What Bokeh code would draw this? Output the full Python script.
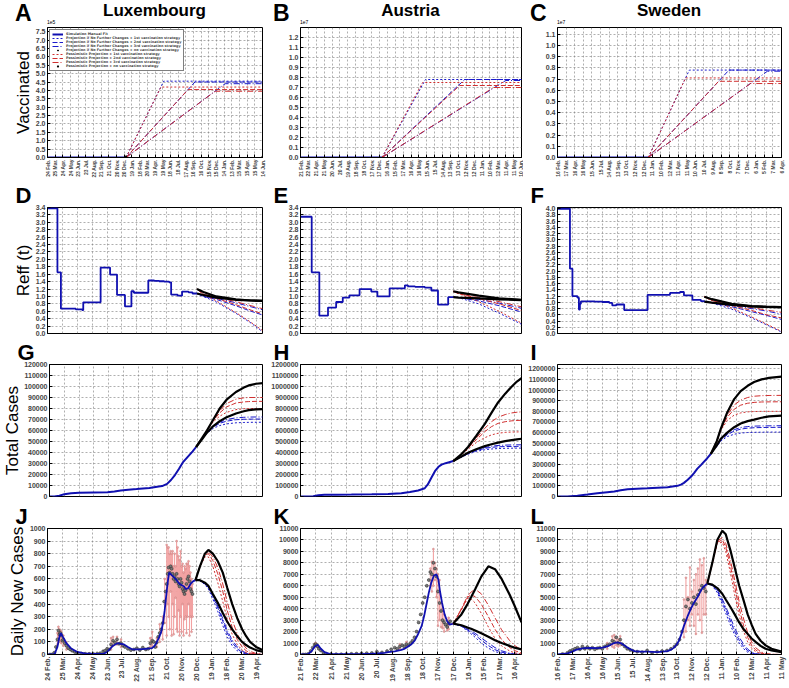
from math import pi
from bokeh.plotting import figure
from bokeh.models import (FixedTicker, Range1d, Legend, LegendItem, Title, Div,
                          NumeralTickFormatter)
from bokeh.layouts import column, row
from bokeh.embed import file_html
from bokeh.resources import INLINE

# ---------------- tick labels ----------------
LUX_TICK_LABELS = ["24 Feb.", "25 Mar.", "24 Apr.", "24 May", "23 Jun.", "23 Jul.", "22 Aug.", "21 Sep.",
                   "21 Oct.", "20 Nov.", "20 Dec.", "19 Jan.", "18 Feb.", "20 Mar.", "19 Apr.", "19 May",
                   "18 Jun.", "18 Jul.", "17 Aug.", "16 Sep.", "16 Oct.", "15 Nov.", "15 Dec.", "14 Jan.",
                   "13 Feb.", "15 Mar.", "15 Apr.", "15 May", "14 Jun."]
AUT_TICK_LABELS = ["21 Feb.", "22 Mar.", "21 Apr.", "21 May", "20 Jun.", "20 Jul.", "19 Aug.", "18 Sep.",
                   "18 Oct.", "17 Nov.", "17 Dec.", "16 Jan.", "15 Feb.", "17 Mar.", "16 Apr.", "16 May",
                   "15 Jun.", "15 Jul.", "14 Aug.", "13 Sep.", "13 Oct.", "12 Nov.", "12 Dec.", "11 Jan.",
                   "10 Feb.", "12 Mar.", "11 Apr.", "11 May", "10 Jun."]
SWE_TICK_LABELS = ["16 Feb.", "17 Mar.", "16 Apr.", "16 May", "15 Jun.", "15 Jul.", "14 Aug.", "13 Sep.",
                   "13 Oct.", "12 Nov.", "12 Dec.", "11 Jan.", "10 Feb.", "12 Mar.", "11 Apr.", "11 May",
                   "10 Jun.", "10 Jul.", "9 Aug.", "8 Sep.", "8 Oct.", "7 Nov.", "7 Dec.", "6 Jan.",
                   "5 Feb.", "7 Mar.", "6 Apr."]
COUNTRIES = ["Luxembourg", "Austria", "Sweden"]
ROW_LABELS = ["Vaccinated", "Reff (t)", "Total Cases", "Daily New Cases"]
PANEL_LETTERS = [["A", "B", "C"], ["D", "E", "F"], ["G", "H", "I"], ["J", "K", "L"]]
VAC_SCALE_TEXT = ["1e5", "1e7", "1e7"]
LEGEND_LABELS = ["Simulation Manual Fit",
                 "Projection if No Further Changes + 1st vaccination strategy",
                 "Projection if No Further Changes + 2nd vaccination strategy",
                 "Projection if No Further Changes + 3rd vaccination strategy",
                 "Projection if No Further Changes + no vaccination strategy",
                 "Pessimistic Projection + 1st vaccination strategy",
                 "Pessimistic Projection + 2nd vaccination strategy",
                 "Pessimistic Projection + 3rd vaccination strategy",
                 "Pessimistic Projection + no vaccination strategy"]

# ---------------- Vaccinated (days since first tick; values in units of 1e5 / 1e7) ----------------
LUX_VAC_FIT_DAY = [0, 307];            LUX_VAC_FIT_VAL = [0.0, 0.0]
LUX_VAC_NONE_DAY = [307, 840];         LUX_VAC_NONE_VAL = [0.0, 0.0]
LUX_VAC_NC1_DAY = [307, 454, 840];     LUX_VAC_NC1_VAL = [0.0, 4.55, 4.55]
LUX_VAC_NC2_DAY = [307, 576, 840];     LUX_VAC_NC2_VAL = [0.0, 4.50, 4.50]
LUX_VAC_NC3_DAY = [307, 694, 840];     LUX_VAC_NC3_VAL = [0.0, 4.40, 4.40]
LUX_VAC_P1_DAY = [307, 443, 840];      LUX_VAC_P1_VAL = [0.0, 4.20, 4.20]
LUX_VAC_P2_DAY = [307, 549, 840];      LUX_VAC_P2_VAL = [0.0, 4.05, 4.05]
LUX_VAC_P3_DAY = [307, 655, 840];      LUX_VAC_P3_VAL = [0.0, 3.95, 3.95]

AUT_VAC_FIT_DAY = [0, 310];            AUT_VAC_FIT_VAL = [0.0, 0.0]
AUT_VAC_NC1_DAY = [310, 475, 840];     AUT_VAC_NC1_VAL = [0.0, 0.78, 0.78]
AUT_VAC_NC2_DAY = [310, 624, 840];     AUT_VAC_NC2_VAL = [0.0, 0.78, 0.78]
AUT_VAC_NC3_DAY = [310, 780, 840];     AUT_VAC_NC3_VAL = [0.0, 0.77, 0.77]
AUT_VAC_P1_DAY = [310, 464, 840];      AUT_VAC_P1_VAL = [0.0, 0.75, 0.75]
AUT_VAC_P2_DAY = [310, 605, 840];      AUT_VAC_P2_VAL = [0.0, 0.72, 0.72]
AUT_VAC_P3_DAY = [310, 734, 840];      AUT_VAC_P3_VAL = [0.0, 0.70, 0.70]

SWE_VAC_FIT_DAY = [0, 316];            SWE_VAC_FIT_VAL = [0.0, 0.0]
SWE_VAC_NC1_DAY = [316, 459, 780];     SWE_VAC_NC1_VAL = [0.0, 0.78, 0.78]
SWE_VAC_NC2_DAY = [316, 597, 780];     SWE_VAC_NC2_VAL = [0.0, 0.78, 0.78]
SWE_VAC_NC3_DAY = [316, 731, 780];     SWE_VAC_NC3_VAL = [0.0, 0.77, 0.77]
SWE_VAC_P1_DAY = [316, 446, 780];      SWE_VAC_P1_VAL = [0.0, 0.71, 0.71]
SWE_VAC_P2_DAY = [316, 561, 780];      SWE_VAC_P2_VAL = [0.0, 0.68, 0.68]
SWE_VAC_P3_DAY = [316, 672, 780];      SWE_VAC_P3_VAL = [0.0, 0.66, 0.66]

# ---------------- Reff(t) ----------------
LUX_R_FIT_DAY = [0, 20, 27, 57, 70, 72, 107, 126, 140, 156, 169, 174, 203, 215, 225, 235, 245, 249, 262, 271, 284, 292, 301]
LUX_R_FIT_VAL = [3.38, 1.65, 0.67, 0.65, 0.63, 0.84, 1.78, 1.59, 1.04, 0.73, 1.14, 1.10, 1.43, 1.42, 1.41, 1.40, 1.38, 1.05, 1.02, 1.13, 1.11, 1.08, 1.08]
LUX_R_PROJ_DAY = [301, 314, 340, 379, 410, 433]
LUX_R_NC1 = [1.08, 1.00, 0.85, 0.55, 0.28, 0.05]
LUX_R_NC2 = [1.08, 1.00, 0.92, 0.75, 0.60, 0.50]
LUX_R_NC3 = [1.08, 1.00, 0.95, 0.83, 0.72, 0.64]
LUX_R_P1 = [1.20, 1.06, 0.88, 0.57, 0.30, 0.08]
LUX_R_P2 = [1.20, 1.06, 0.95, 0.78, 0.63, 0.53]
LUX_R_P3 = [1.20, 1.06, 0.98, 0.86, 0.75, 0.67]
LUX_R_NC0 = [1.08, 1.04, 0.97, 0.91, 0.89, 0.88]
LUX_R_P0 = [1.20, 1.12, 1.00, 0.92, 0.89, 0.88]

AUT_R_FIT_DAY = [0, 22, 37, 54, 70, 83, 96, 116, 139, 151, 175, 205, 211, 225, 244, 257, 270, 290, 300]
AUT_R_FIT_VAL = [3.15, 1.65, 0.48, 0.70, 0.85, 0.97, 1.03, 1.20, 1.13, 1.00, 1.22, 1.30, 1.27, 1.26, 1.24, 1.16, 0.78, 0.98, 0.98]
AUT_R_PROJ_DAY = [300, 310, 350, 390, 434]
AUT_R_NC1 = [0.98, 0.97, 0.80, 0.55, 0.25]
AUT_R_NC2 = [0.98, 0.97, 0.88, 0.75, 0.58]
AUT_R_NC3 = [0.98, 0.97, 0.92, 0.82, 0.68]
AUT_R_P1 = [1.14, 1.08, 0.86, 0.60, 0.28]
AUT_R_P2 = [1.14, 1.08, 0.94, 0.80, 0.62]
AUT_R_P3 = [1.14, 1.08, 0.97, 0.86, 0.72]
AUT_R_NC0 = [0.98, 0.97, 0.95, 0.92, 0.90]
AUT_R_P0 = [1.14, 1.11, 1.02, 0.95, 0.91]

SWE_R_FIT_DAY = [0, 25, 30, 40, 43, 45, 47, 60, 75, 90, 104, 110, 118, 134, 181, 226, 246, 254, 271, 288, 295]
SWE_R_FIT_VAL = [4.0, 2.08, 1.20, 1.15, 0.77, 0.95, 1.03, 1.03, 1.02, 1.01, 0.98, 0.90, 0.93, 0.75, 1.24, 1.30, 1.33, 1.22, 1.08, 1.04, 1.02]
SWE_R_PROJ_DAY = [295, 310, 350, 390, 420, 450]
SWE_R_NC1 = [1.02, 0.98, 0.78, 0.50, 0.28, 0.05]
SWE_R_NC2 = [1.02, 0.98, 0.86, 0.70, 0.58, 0.45]
SWE_R_NC3 = [1.02, 0.98, 0.90, 0.80, 0.72, 0.62]
SWE_R_P1 = [1.18, 1.06, 0.82, 0.53, 0.30, 0.07]
SWE_R_P2 = [1.18, 1.06, 0.90, 0.74, 0.60, 0.50]
SWE_R_P3 = [1.18, 1.06, 0.93, 0.83, 0.75, 0.68]
SWE_R_NC0 = [1.02, 0.99, 0.92, 0.87, 0.85, 0.84]
SWE_R_P0 = [1.18, 1.10, 0.95, 0.88, 0.86, 0.85]

# ---------------- Total cases ----------------
LUX_T_FIT_DAY = [0, 10, 20, 30, 44, 60, 90, 118, 132, 145, 160, 177, 203, 222, 229, 239, 247, 255, 263, 271, 281, 291, 298]
LUX_T_FIT_VAL = [0, 100, 800, 2000, 3000, 3400, 3600, 3800, 4500, 5500, 6200, 6800, 7800, 9000, 9500, 11500, 15000, 19500, 25000, 31000, 36000, 41000, 45000]
LUX_T_PROJ_DAY = [298, 310, 320, 333, 346, 360, 379, 395, 405, 420, 434]
LUX_T_P0 = [45000, 53000, 60000, 70000, 80000, 88000, 95000, 99000, 101000, 102500, 103000]
LUX_T_NC0 = [45000, 52000, 58000, 64000, 68500, 72000, 75500, 77500, 78500, 79200, 79500]
LUX_T_P1 = [45000, 53000, 60000, 68000, 73000, 76500, 79000, 79800, 80000, 80000, 80000]
LUX_T_P2 = [45000, 53000, 60000, 69000, 76000, 81500, 85000, 86000, 86300, 86500, 86500]
LUX_T_P3 = [45000, 53000, 60000, 69500, 78000, 84500, 88500, 89700, 90000, 90000, 90000]
LUX_T_NC1 = [45000, 52000, 57500, 62000, 64500, 66000, 67000, 67300, 67400, 67500, 67500]
LUX_T_NC2 = [45000, 52000, 57800, 63000, 66500, 68500, 69800, 70200, 70300, 70400, 70400]
LUX_T_NC3 = [45000, 52000, 58000, 63500, 67500, 70000, 71500, 72000, 72200, 72300, 72300]

AUT_T_FIT_DAY = [0, 15, 25, 35, 47, 70, 100, 140, 172, 198, 215, 231, 244, 250, 257, 264, 271, 277, 285, 292, 300]
AUT_T_FIT_VAL = [0, 500, 3000, 12000, 15000, 17000, 18000, 20000, 23000, 30000, 40000, 55000, 75000, 110000, 170000, 230000, 270000, 290000, 303000, 312000, 322000]
AUT_T_PROJ_DAY = [300, 315, 329, 345, 362, 375, 388, 402, 415, 425, 434]
AUT_T_P0 = [322000, 380000, 450000, 550000, 660000, 760000, 855000, 935000, 1000000, 1045000, 1075000]
AUT_T_NC0 = [322000, 360000, 398000, 430000, 458000, 475000, 490000, 503000, 513000, 520000, 525000]
AUT_T_P1 = [322000, 375000, 430000, 490000, 535000, 560000, 575000, 583000, 586000, 587000, 588000]
AUT_T_P2 = [322000, 378000, 440000, 515000, 590000, 635000, 665000, 680000, 688000, 691000, 693000]
AUT_T_P3 = [322000, 379000, 445000, 530000, 620000, 680000, 720000, 745000, 760000, 766000, 770000]
AUT_T_NC1 = [322000, 355000, 385000, 410000, 425000, 432000, 436000, 438000, 439000, 440000, 440000]
AUT_T_NC2 = [322000, 357000, 390000, 418000, 437000, 447000, 452000, 454000, 455000, 455500, 456000]
AUT_T_NC3 = [322000, 358000, 393000, 423000, 445000, 457000, 464000, 467000, 469000, 470000, 470000]

SWE_T_FIT_DAY = [0, 20, 40, 60, 80, 100, 114, 127, 141, 160, 181, 201, 221, 241, 248, 254, 261, 268, 275, 281, 288, 294, 300, 308]
SWE_T_FIT_VAL = [0, 1000, 8000, 18000, 30000, 40000, 47000, 58000, 68000, 73000, 78000, 83000, 87000, 100000, 112000, 128000, 155000, 185000, 225000, 262000, 295000, 325000, 355000, 400000]
SWE_T_PROJ_DAY = [308, 320, 328, 341, 355, 368, 382, 395, 410, 425, 450]
SWE_T_P0 = [400000, 520000, 636000, 790000, 915000, 990000, 1040000, 1075000, 1100000, 1115000, 1126000]
SWE_T_NC0 = [400000, 480000, 543000, 600000, 651000, 685000, 708000, 722000, 740000, 752000, 760000]
SWE_T_P1 = [400000, 515000, 620000, 715000, 765000, 785000, 795000, 798000, 800000, 800000, 800000]
SWE_T_P2 = [400000, 515000, 625000, 745000, 820000, 858000, 876000, 884000, 888000, 889000, 890000]
SWE_T_P3 = [400000, 517000, 630000, 765000, 860000, 905000, 930000, 942000, 947000, 949000, 950000]
SWE_T_NC1 = [400000, 470000, 520000, 563000, 585000, 596000, 601000, 603000, 604000, 605000, 605000]
SWE_T_NC2 = [400000, 473000, 528000, 580000, 615000, 633000, 642000, 646000, 648000, 649000, 650000]
SWE_T_NC3 = [400000, 474000, 532000, 590000, 628000, 648000, 657000, 661000, 663000, 664000, 665000]

# ---------------- Daily new cases ----------------
LUX_D_FIT_DAY = [0, 14, 20, 24, 27, 31, 38, 47, 60, 75, 95, 112, 120, 125, 132, 141, 148, 154, 162, 171,
                 185, 197, 210, 215, 219, 224, 229, 233, 236, 240, 243, 245, 250, 258, 266, 275, 278, 283, 288, 293, 298]
LUX_D_FIT_VAL = [0, 0, 60, 140, 170, 140, 90, 50, 20, 8, 5, 5, 20, 40, 70, 90, 85, 80, 60, 40,
                 40, 45, 50, 65, 90, 130, 180, 260, 350, 500, 600, 650, 630, 600, 560, 540, 520, 525, 560, 580, 590]
LUX_D_PROJ_DAY = [298, 307, 317, 324, 333, 343, 353, 362, 372, 382, 392, 400, 408, 420, 433]
LUX_D_P0 = [590, 700, 800, 830, 800, 740, 650, 530, 400, 290, 200, 145, 100, 60, 35]
LUX_D_NC0 = [590, 590, 570, 545, 480, 410, 330, 260, 200, 145, 100, 75, 55, 35, 22]
LUX_D_P1 = [590, 695, 775, 775, 700, 570, 420, 280, 160, 80, 35, 15, 6, 2, 0]
LUX_D_P2 = [590, 697, 790, 800, 745, 640, 500, 350, 215, 120, 60, 30, 12, 4, 1]
LUX_D_P3 = [590, 698, 800, 815, 775, 690, 560, 415, 275, 165, 90, 50, 25, 8, 2]
LUX_D_NC1 = [590, 585, 555, 520, 440, 340, 230, 140, 70, 30, 10, 4, 1, 0, 0]
LUX_D_NC2 = [590, 587, 562, 532, 460, 370, 265, 170, 95, 45, 18, 8, 3, 1, 0]
LUX_D_NC3 = [590, 588, 565, 538, 470, 385, 285, 190, 115, 60, 27, 12, 5, 1, 0]
LUX_OBS_DAY = [5, 10, 14, 17, 20, 22, 24, 26, 28, 30, 32, 35, 38, 42, 46, 50, 55, 60, 68, 76,
               84, 92, 100, 106, 112, 116, 120, 124, 128, 132, 136, 140, 144, 148, 152, 156, 162, 168, 174, 180,
               186, 192, 198, 203, 207, 211, 214, 217, 220, 223, 226, 229, 232, 235, 238, 240, 242, 244, 246, 248,
               250, 252, 254, 256, 258, 260, 262, 264, 266, 268, 270, 272, 274, 276, 278, 280, 282, 284, 286, 288,
               290, 292]
LUX_OBS_VAL = [0, 2, 15, 60, 120, 190, 160, 170, 150, 110, 120, 90, 70, 50, 40, 30, 20, 12, 8, 6,
               5, 6, 8, 10, 25, 30, 45, 40, 80, 110, 95, 120, 85, 90, 70, 60, 45, 35, 40, 50,
               35, 55, 40, 45, 90, 110, 100, 60, 95, 140, 170, 200, 250, 420, 500, 560, 640, 690, 650, 700,
               680, 640, 600, 620, 580, 640, 600, 560, 540, 600, 570, 520, 500, 480, 510, 560, 600, 620, 580, 520,
               500, 480]
LUX_ERR_DAY = [20, 22, 24, 26, 28, 32, 38, 128, 132, 140, 148, 207, 211, 220, 226, 232, 236, 240, 242, 244, 246, 248,
               250, 252, 254, 256, 258, 260, 262, 264, 266, 268, 270, 272, 274, 276, 278, 280, 282, 284, 286, 288, 290, 292]
LUX_ERR_LO = [80, 120, 100, 110, 90, 70, 40, 40, 70, 80, 60, 60, 70, 60, 100, 120, 250, 150, 400, 300, 200, 500,
              150, 400, 160, 300, 450, 200, 180, 350, 150, 300, 180, 400, 150, 280, 300, 170, 300, 400, 150, 300, 180, 300]
LUX_ERR_HI = [170, 220, 200, 190, 180, 150, 100, 130, 140, 140, 120, 130, 180, 130, 240, 300, 600, 870, 850, 850, 800, 820,
              800, 820, 700, 800, 700, 900, 850, 780, 750, 820, 700, 720, 650, 700, 680, 720, 720, 740, 700, 650, 600, 560]

AUT_D_FIT_DAY = [0, 14, 22, 28, 34, 40, 47, 57, 70, 90, 119, 140, 152, 165, 172, 185, 198, 205, 211, 218,
                 224, 230, 238, 243, 247, 252, 257, 262, 267, 271, 274, 278, 283, 288, 293, 300]
AUT_D_FIT_VAL = [0, 0, 300, 700, 850, 500, 200, 60, 30, 20, 30, 70, 100, 150, 200, 280, 400, 520, 700, 900,
                 1200, 1700, 2500, 3400, 4300, 5400, 6300, 6900, 7000, 6500, 5500, 4500, 3500, 2900, 2600, 2700]
AUT_D_PROJ_DAY = [300, 316, 328, 335, 343, 355, 369, 382, 395, 411, 420, 434]
AUT_D_P0 = [2700, 3500, 4400, 5000, 5700, 6800, 7700, 7450, 6600, 5200, 4300, 2800]
AUT_D_NC0 = [2700, 2550, 2350, 2250, 2100, 1850, 1550, 1250, 1000, 750, 600, 450]
AUT_D_P1 = [2700, 3900, 4900, 4850, 4500, 3600, 2400, 1400, 750, 300, 150, 50]
AUT_D_P2 = [2700, 3950, 5000, 5200, 5050, 4400, 3300, 2200, 1300, 600, 350, 120]
AUT_D_P3 = [2700, 4000, 5100, 5450, 5700, 5300, 4300, 3200, 2150, 1200, 800, 400]
AUT_D_NC1 = [2700, 2450, 2050, 1800, 1500, 1000, 550, 250, 100, 20, 5, 0]
AUT_D_NC2 = [2700, 2480, 2150, 1950, 1700, 1250, 780, 420, 200, 60, 20, 5]
AUT_D_NC3 = [2700, 2500, 2200, 2050, 1850, 1450, 1000, 600, 320, 120, 50, 10]
AUT_OBS_DAY = [5, 10, 15, 20, 24, 28, 30, 32, 34, 36, 40, 45, 50, 60, 70, 80, 90, 100, 110, 120,
               130, 140, 150, 160, 170, 178, 185, 190, 195, 200, 204, 208, 212, 216, 220, 224, 228, 232, 236, 240,
               244, 248, 252, 255, 258, 261, 264, 267, 270, 273, 276, 279, 282, 285, 288, 291, 294]
AUT_OBS_VAL = [0, 5, 50, 300, 600, 850, 900, 800, 700, 500, 350, 150, 80, 40, 30, 25, 40, 60, 80, 100,
               120, 130, 250, 180, 300, 450, 600, 500, 700, 800, 700, 900, 800, 1000, 1200, 1500, 2000, 2800, 3500, 4500,
               5000, 6000, 6500, 7200, 7000, 8000, 7500, 6800, 5500, 4500, 3800, 3000, 2800, 2600, 2400, 2700, 2900]
AUT_ERR_DAY = [28, 30, 195, 208, 255, 258, 261, 264, 267, 270, 273, 276, 279, 282, 288, 291]
AUT_ERR_LO = [650, 700, 500, 650, 6000, 5500, 6000, 6500, 5000, 2500, 3000, 2400, 2300, 2000, 2100, 2200]
AUT_ERR_HI = [950, 1000, 900, 1100, 7500, 8100, 9200, 8000, 7500, 7000, 6500, 4500, 4000, 3500, 3000, 3200]

SWE_D_FIT_DAY = [0, 20, 30, 37, 45, 54, 65, 80, 90, 100, 107, 114, 120, 127, 134, 141, 148, 154, 165, 181,
                 201, 221, 228, 234, 239, 244, 249, 254, 261, 268, 274, 281, 286, 291, 296, 301]
SWE_D_FIT_VAL = [0, 100, 250, 400, 500, 550, 580, 550, 600, 700, 850, 1000, 1050, 1000, 800, 600, 420, 300, 260, 250,
                 200, 300, 420, 600, 850, 1200, 1800, 2500, 3300, 4000, 4500, 5000, 5400, 5800, 6000, 6200]
SWE_D_PROJ_DAY = [301, 311, 321, 331, 338, 348, 356, 365, 374, 382, 390, 398, 408, 418, 430, 450]
SWE_D_P0 = [6200, 8000, 10000, 10800, 10500, 9000, 7600, 6000, 4700, 3500, 2600, 1800, 1200, 800, 500, 250]
SWE_D_NC0 = [6200, 6100, 5800, 5300, 4800, 4100, 3500, 2800, 2200, 1800, 1400, 1100, 750, 500, 350, 200]
SWE_D_P1 = [6200, 7900, 9700, 9800, 9000, 7000, 5200, 3400, 2000, 1100, 550, 250, 80, 20, 5, 0]
SWE_D_P2 = [6200, 7950, 9800, 10000, 9400, 7600, 5900, 4000, 2500, 1500, 800, 400, 150, 50, 10, 0]
SWE_D_P3 = [6200, 8000, 9900, 10200, 9700, 8100, 6500, 4600, 3100, 1900, 1100, 600, 250, 80, 20, 0]
SWE_D_NC1 = [6200, 6000, 5400, 4400, 3600, 2500, 1700, 1000, 500, 200, 60, 15, 3, 0, 0, 0]
SWE_D_NC2 = [6200, 6050, 5550, 4650, 3900, 2850, 2000, 1250, 700, 330, 130, 40, 8, 1, 0, 0]
SWE_D_NC3 = [6200, 6080, 5650, 4850, 4150, 3150, 2300, 1500, 900, 470, 210, 80, 20, 4, 0, 0]
SWE_OBS_DAY = [10, 20, 25, 30, 35, 40, 45, 50, 55, 60, 65, 70, 75, 80, 85, 90, 95, 100, 105, 110,
               114, 118, 122, 126, 130, 135, 140, 146, 152, 160, 170, 180, 190, 200, 210, 220, 228, 235, 240, 245,
               250, 254, 258, 262, 266, 270, 274, 278, 282, 286, 290, 294, 298]
SWE_OBS_VAL = [50, 150, 300, 400, 500, 600, 450, 700, 500, 650, 500, 600, 450, 550, 600, 500, 700, 800, 900, 1200,
               1100, 1500, 1000, 1300, 900, 700, 500, 400, 300, 250, 200, 350, 150, 250, 300, 350, 500, 700, 900, 1300,
               2000, 3000, 4200, 4800, 4000, 4500, 5000, 4400, 5200, 5600, 6000, 5800, 5500]
SWE_ERR_DAY = [100, 110, 114, 118, 122, 126, 254, 258, 262, 266, 270, 274, 278, 282, 286, 290, 294, 298]
SWE_ERR_LO = [500, 700, 600, 800, 700, 800, 1500, 2000, 3000, 2500, 3500, 2500, 1800, 3500, 3000, 1900, 3500, 3500]
SWE_ERR_HI = [1000, 1600, 1700, 1500, 1300, 1600, 4800, 6700, 5000, 7600, 5500, 6500, 7000, 7500, 8300, 7800, 8400, 6500]

# ---------------- styling / layout ----------------
BLUE = "#1a1acc"
FITBLUE = "#1010b0"
RED = "#d03030"
PINK = "#f2a2a2"
STYLES = {"nc1": (BLUE, "2 2", 1.0), "nc2": (BLUE, "5 2", 1.0), "nc3": (BLUE, "6 2 1 2", 1.0),
          "p1": (RED, "2 2", 1.0), "p2": (RED, "5 2", 1.0), "p3": (RED, "6 2 1 2", 1.0),
          "nc0": ("black", "solid", 2.2), "p0": ("black", "solid", 2.2)}
COL_LEFT = [47, 34, 34]
COL_W = [215, 221, 224]
COL_RIGHT = [4, 2, 6]
HEADER_H = 26
ROW_TOP = [1, 25, 26, 28]
ROW_H = [132, 128, 133, 128]
ROW_BOT = [21, 4, 4, 28]
LETTER_X = [15, 7, 7]
TICK_FONT = "Liberation Sans"
TEXT_FONT = "Liberation Sans"


def make_fig(ci, ri, x_end, y_end, yticks, yfmt, xlabels, show_x, xfont):
    w = COL_LEFT[ci] + COL_W[ci] + COL_RIGHT[ci]
    h = ROW_TOP[ri] + ROW_H[ri] + ROW_BOT[ri]
    p = figure(width=w, height=h, x_range=Range1d(0, x_end), y_range=Range1d(0, y_end),
               output_backend="svg", toolbar_location=None, tools="",
               min_border_left=COL_LEFT[ci], min_border_right=COL_RIGHT[ci],
               min_border_top=ROW_TOP[ri], min_border_bottom=ROW_BOT[ri])
    p.background_fill_color = "white"
    p.border_fill_color = "white"
    p.outline_line_color = "black"
    p.outline_line_alpha = 1.0
    p.outline_line_width = 1
    xt = FixedTicker(ticks=[30 * i for i in range(len(xlabels))])
    yt = FixedTicker(ticks=yticks)
    p.xaxis.ticker = xt
    p.yaxis.ticker = yt
    p.xgrid.ticker = xt
    p.ygrid.ticker = yt
    for g in (p.xgrid, p.ygrid):
        g.grid_line_color = "#808080"
        g.grid_line_dash = "2 2"
        g.grid_line_width = 0.7
        g.grid_line_alpha = 0.9
    for ax in (p.xaxis, p.yaxis):
        ax.axis_line_color = "black"
        ax.major_tick_in = 3
        ax.major_tick_out = 0
        ax.minor_tick_line_color = None
        ax.major_tick_line_color = "black"
        ax.major_label_text_font = TICK_FONT
        ax.major_label_text_font_style = "bold"
        ax.major_label_standoff = 2
    p.xaxis.major_label_overrides = {30 * i: s for i, s in enumerate(xlabels)}
    p.xaxis.major_label_orientation = pi / 2
    p.xaxis.major_label_text_font_size = xfont
    p.xaxis.visible = show_x
    p.yaxis.formatter = NumeralTickFormatter(format=yfmt)
    p.yaxis.major_label_text_font_size = "7px"
    if ri > 0:
        p.title.text = PANEL_LETTERS[ri][ci]
        p.title.align = "left"
        p.title.offset = LETTER_X[ci] - COL_LEFT[ci]
        p.title.standoff = 0
        p.title.text_font = TEXT_FONT
        p.title.text_font_size = "22px"
        p.title.text_font_style = "bold"
        p.title.text_color = "black"
    if ci == 0:
        p.add_layout(Title(text=ROW_LABELS[ri], align="center", text_font=TEXT_FONT,
                           text_font_size="17px", text_font_style="normal", standoff=0,
                           text_color="black"), "left")
    return p


def sline(p, x, y, key):
    color, dash, width = STYLES[key]
    return p.line(x, y, line_color=color, line_dash=dash, line_width=width)


def draw_projections(p, days, nc1, nc2, nc3, p1, p2, p3, nc0, p0):
    for key, vals in (("nc1", nc1), ("nc2", nc2), ("nc3", nc3), ("p1", p1), ("p2", p2), ("p3", p3)):
        sline(p, days, vals, key)
    sline(p, days, p0, "p0")
    sline(p, days, nc0, "nc0")


def draw_obs(p, days, vals, edays, lo, hi):
    p.segment(x0=edays, y0=lo, x1=edays, y1=hi, line_color=PINK, line_width=1.1)
    p.scatter(edays, lo, size=2, marker="circle", fill_color=PINK, line_color="#c08080", line_width=0.4)
    p.scatter(edays, hi, size=2, marker="circle", fill_color=PINK, line_color="#c08080", line_width=0.4)
    p.scatter(days, vals, size=3, marker="circle", fill_color="#777777", line_color="#222222", line_width=0.5)


TICKS_LABELS = [LUX_TICK_LABELS, AUT_TICK_LABELS, SWE_TICK_LABELS]
N_DAILY_TICKS = [15, 15, 16]
DAILY_END = [433, 434, 450]
VAC_END = [840, 840, 780]
VAC_YEND = [7.75, 1.3, 1.16]
VAC_YTICKS = [[i * 0.5 for i in range(16)], [round(i * 0.1, 1) for i in range(13)], [round(i * 0.1, 1) for i in range(12)]]
REFF_YEND = [3.4, 3.4, 4.04]
REFF_YTICKS = [[round(i * 0.2, 1) for i in range(18)], [round(i * 0.2, 1) for i in range(18)], [round(i * 0.2, 1) for i in range(21)]]
TOT_YEND = [120000, 1200000, 1240000]
TOT_YTICKS = [[i * 10000 for i in range(13)], [i * 100000 for i in range(13)], [i * 100000 for i in range(13)]]
DAY_YEND = [1000, 11000, 11000]
DAY_YTICKS = [[i * 100 for i in range(11)], [i * 1000 for i in range(12)], [i * 1000 for i in range(12)]]

VAC_DATA = [
    (LUX_VAC_FIT_DAY, LUX_VAC_FIT_VAL, [(LUX_VAC_NC1_DAY, LUX_VAC_NC1_VAL), (LUX_VAC_NC2_DAY, LUX_VAC_NC2_VAL), (LUX_VAC_NC3_DAY, LUX_VAC_NC3_VAL)],
     [(LUX_VAC_P1_DAY, LUX_VAC_P1_VAL), (LUX_VAC_P2_DAY, LUX_VAC_P2_VAL), (LUX_VAC_P3_DAY, LUX_VAC_P3_VAL)]),
    (AUT_VAC_FIT_DAY, AUT_VAC_FIT_VAL, [(AUT_VAC_NC1_DAY, AUT_VAC_NC1_VAL), (AUT_VAC_NC2_DAY, AUT_VAC_NC2_VAL), (AUT_VAC_NC3_DAY, AUT_VAC_NC3_VAL)],
     [(AUT_VAC_P1_DAY, AUT_VAC_P1_VAL), (AUT_VAC_P2_DAY, AUT_VAC_P2_VAL), (AUT_VAC_P3_DAY, AUT_VAC_P3_VAL)]),
    (SWE_VAC_FIT_DAY, SWE_VAC_FIT_VAL, [(SWE_VAC_NC1_DAY, SWE_VAC_NC1_VAL), (SWE_VAC_NC2_DAY, SWE_VAC_NC2_VAL), (SWE_VAC_NC3_DAY, SWE_VAC_NC3_VAL)],
     [(SWE_VAC_P1_DAY, SWE_VAC_P1_VAL), (SWE_VAC_P2_DAY, SWE_VAC_P2_VAL), (SWE_VAC_P3_DAY, SWE_VAC_P3_VAL)]),
]
REFF_DATA = [
    (LUX_R_FIT_DAY, LUX_R_FIT_VAL, LUX_R_PROJ_DAY, LUX_R_NC1, LUX_R_NC2, LUX_R_NC3, LUX_R_P1, LUX_R_P2, LUX_R_P3, LUX_R_NC0, LUX_R_P0),
    (AUT_R_FIT_DAY, AUT_R_FIT_VAL, AUT_R_PROJ_DAY, AUT_R_NC1, AUT_R_NC2, AUT_R_NC3, AUT_R_P1, AUT_R_P2, AUT_R_P3, AUT_R_NC0, AUT_R_P0),
    (SWE_R_FIT_DAY, SWE_R_FIT_VAL, SWE_R_PROJ_DAY, SWE_R_NC1, SWE_R_NC2, SWE_R_NC3, SWE_R_P1, SWE_R_P2, SWE_R_P3, SWE_R_NC0, SWE_R_P0),
]
TOT_DATA = [
    (LUX_T_FIT_DAY, LUX_T_FIT_VAL, LUX_T_PROJ_DAY, LUX_T_NC1, LUX_T_NC2, LUX_T_NC3, LUX_T_P1, LUX_T_P2, LUX_T_P3, LUX_T_NC0, LUX_T_P0),
    (AUT_T_FIT_DAY, AUT_T_FIT_VAL, AUT_T_PROJ_DAY, AUT_T_NC1, AUT_T_NC2, AUT_T_NC3, AUT_T_P1, AUT_T_P2, AUT_T_P3, AUT_T_NC0, AUT_T_P0),
    (SWE_T_FIT_DAY, SWE_T_FIT_VAL, SWE_T_PROJ_DAY, SWE_T_NC1, SWE_T_NC2, SWE_T_NC3, SWE_T_P1, SWE_T_P2, SWE_T_P3, SWE_T_NC0, SWE_T_P0),
]
DAY_DATA = [
    (LUX_D_FIT_DAY, LUX_D_FIT_VAL, LUX_D_PROJ_DAY, LUX_D_NC1, LUX_D_NC2, LUX_D_NC3, LUX_D_P1, LUX_D_P2, LUX_D_P3, LUX_D_NC0, LUX_D_P0),
    (AUT_D_FIT_DAY, AUT_D_FIT_VAL, AUT_D_PROJ_DAY, AUT_D_NC1, AUT_D_NC2, AUT_D_NC3, AUT_D_P1, AUT_D_P2, AUT_D_P3, AUT_D_NC0, AUT_D_P0),
    (SWE_D_FIT_DAY, SWE_D_FIT_VAL, SWE_D_PROJ_DAY, SWE_D_NC1, SWE_D_NC2, SWE_D_NC3, SWE_D_P1, SWE_D_P2, SWE_D_P3, SWE_D_NC0, SWE_D_P0),
]
OBS_DATA = [
    (LUX_OBS_DAY, LUX_OBS_VAL, LUX_ERR_DAY, LUX_ERR_LO, LUX_ERR_HI),
    (AUT_OBS_DAY, AUT_OBS_VAL, AUT_ERR_DAY, AUT_ERR_LO, AUT_ERR_HI),
    (SWE_OBS_DAY, SWE_OBS_VAL, SWE_ERR_DAY, SWE_ERR_LO, SWE_ERR_HI),
]

# ---------------- header strip: panel letters A-C, country names, scale factors ----------------
col_w_total = [COL_LEFT[i] + COL_W[i] + COL_RIGHT[i] for i in range(3)]
col_start = [sum(col_w_total[:i]) for i in range(3)]
frame_left = [col_start[i] + COL_LEFT[i] for i in range(3)]
total_w = sum(col_w_total)
spans = []
for i in range(3):
    spans.append(f'<span style="position:absolute;left:{col_start[i] + LETTER_X[i]}px;top:0px;font-size:23px;'
                 f'font-weight:bold;line-height:26px;">{PANEL_LETTERS[0][i]}</span>')
    spans.append(f'<span style="position:absolute;left:{frame_left[i]}px;width:{COL_W[i]}px;top:0px;'
                 f'text-align:center;font-size:17px;font-weight:bold;line-height:22px;">{COUNTRIES[i]}</span>')
    spans.append(f'<span style="position:absolute;left:{frame_left[i]}px;top:19px;font-size:5px;'
                 f'line-height:6px;">{VAC_SCALE_TEXT[i]}</span>')
header_html = (f'<div style="position:relative;width:{total_w}px;height:{HEADER_H}px;'
               f'font-family:\'{TEXT_FONT}\',Arial,sans-serif;color:black;">'
               + "".join(spans) + "</div>")
header = Div(text=header_html, width=total_w, height=HEADER_H, margin=0)

rows = [[], [], [], []]
for ci in range(3):
    labels = TICKS_LABELS[ci]
    daily_labels = labels[:N_DAILY_TICKS[ci]]

    # --- row 0: vaccinated ---
    p = make_fig(ci, 0, VAC_END[ci], VAC_YEND[ci], VAC_YTICKS[ci], "0.0", labels, True, "5px")
    fit_d, fit_v, ncs, ps = VAC_DATA[ci]
    r_fit = p.line(fit_d, fit_v, line_color=FITBLUE, line_width=2)
    r_nc = [sline(p, d, v, k) for (d, v), k in zip(ncs, ["nc1", "nc2", "nc3"])]
    r_p = [sline(p, d, v, k) for (d, v), k in zip(ps, ["p1", "p2", "p3"])]
    if ci == 0:
        r_nc0 = p.scatter(LUX_VAC_NONE_DAY, LUX_VAC_NONE_VAL, marker="cross", size=4,
                          line_color="black", line_width=1)
        r_p0 = p.scatter(LUX_VAC_NONE_DAY, LUX_VAC_NONE_VAL, marker="triangle", size=3,
                         fill_color="black", line_color="black")
        rends = [r_fit] + r_nc + [r_nc0] + r_p + [r_p0]
        legend = Legend(items=[LegendItem(label=lab, renderers=[r]) for lab, r in zip(LEGEND_LABELS, rends)],
                        location="top_left", label_text_font="DejaVu Sans", label_text_font_style="bold",
                        label_text_font_size="3.4px", label_height=4, label_standoff=3,
                        glyph_height=4, glyph_width=11, spacing=0, padding=2, margin=2,
                        border_line_color="black", border_line_width=0.8, background_fill_alpha=1.0)
        p.add_layout(legend)
    rows[0].append(p)

    # --- row 1: Reff ---
    p = make_fig(ci, 1, DAILY_END[ci], REFF_YEND[ci], REFF_YTICKS[ci], "0.0", daily_labels, False, "6px")
    d = REFF_DATA[ci]
    p.step(d[0], d[1], mode="after", line_color=FITBLUE, line_width=1.8)
    draw_projections(p, *d[2:])
    rows[1].append(p)

    # --- row 2: total cases ---
    p = make_fig(ci, 2, DAILY_END[ci], TOT_YEND[ci], TOT_YTICKS[ci], "0", daily_labels, False, "6px")
    d = TOT_DATA[ci]
    p.line(d[0], d[1], line_color=FITBLUE, line_width=2)
    draw_projections(p, *d[2:])
    rows[2].append(p)

    # --- row 3: daily new cases ---
    p = make_fig(ci, 3, DAILY_END[ci], DAY_YEND[ci], DAY_YTICKS[ci], "0", daily_labels, True, "7px")
    draw_obs(p, *OBS_DATA[ci])
    d = DAY_DATA[ci]
    p.line(d[0], d[1], line_color=FITBLUE, line_width=1.8)
    draw_projections(p, *d[2:])
    rows[3].append(p)

layout = column(header, *[row(*r) for r in rows])
open("out.html", "w").write(file_html(layout, INLINE))
